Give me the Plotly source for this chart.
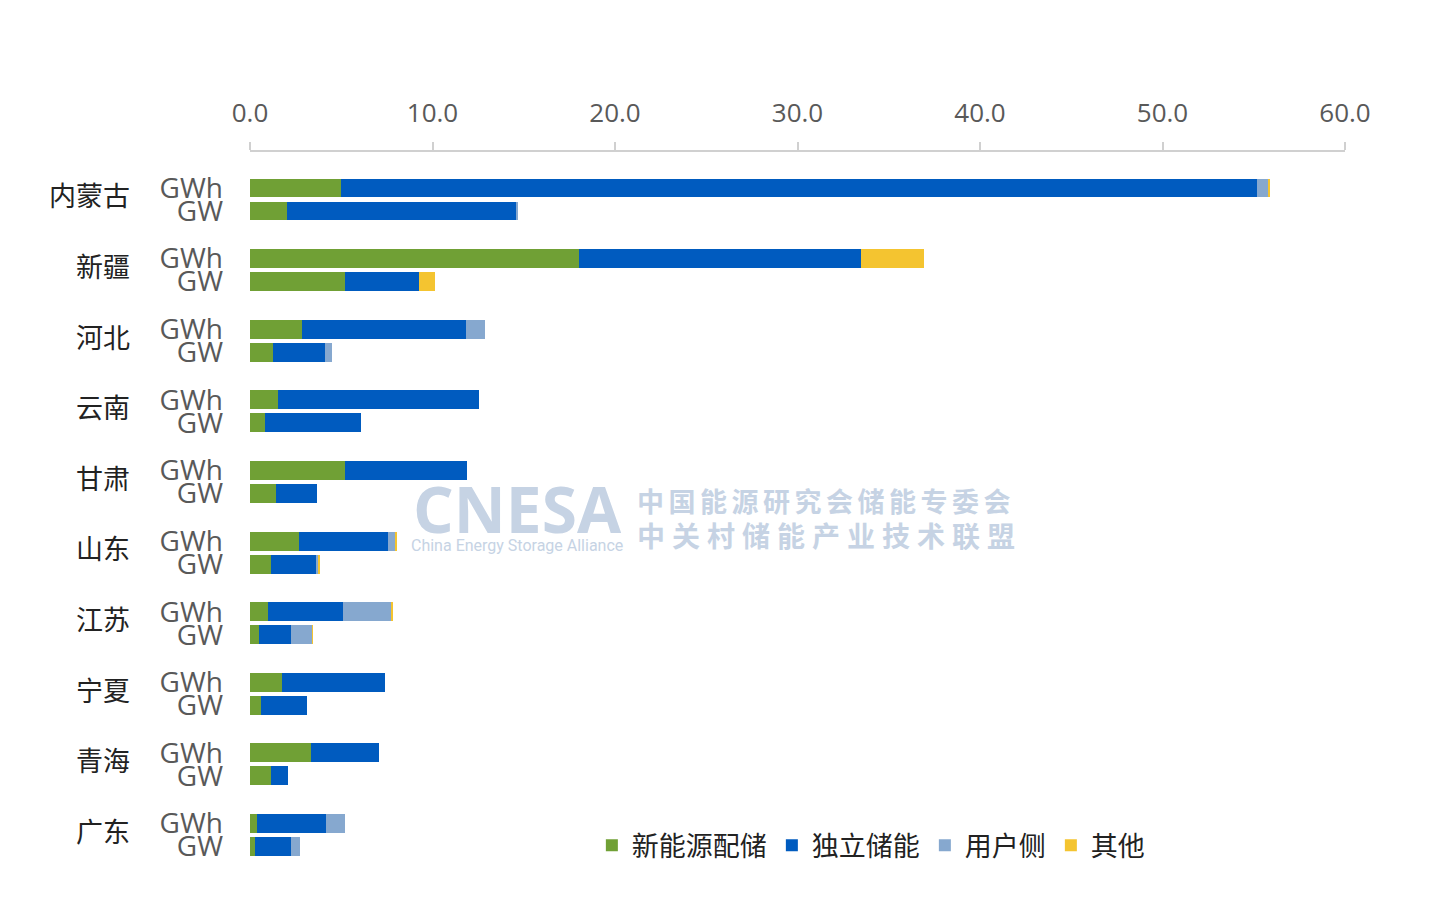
import plotly.graph_objects as go

# provinces, top to bottom
provinces = ["内蒙古", "新疆", "河北", "云南", "甘肃", "山东", "江苏", "宁夏", "青海", "广东"]
units = ["GWh", "GW"]

# energy (GWh) by application
gwh_new_energy = [5.0, 18.0, 2.85, 1.55, 5.2, 2.7, 1.0, 1.75, 3.35, 0.4]
gwh_standalone = [50.2, 15.5, 9.0, 11.0, 6.7, 4.85, 4.1, 5.65, 3.7, 3.75]
gwh_user_side = [0.6, 0.0, 1.0, 0.0, 0.0, 0.4, 2.65, 0.0, 0.0, 1.05]
gwh_other = [0.1, 3.45, 0.0, 0.0, 0.0, 0.1, 0.07, 0.0, 0.0, 0.0]

# power (GW) by application
gw_new_energy = [2.0, 5.2, 1.25, 0.8, 1.45, 1.15, 0.5, 0.6, 1.15, 0.27]
gw_standalone = [12.56, 4.05, 2.85, 5.3, 2.2, 2.45, 1.75, 2.55, 0.95, 1.97]
gw_user_side = [0.15, 0.0, 0.42, 0.0, 0.0, 0.13, 1.15, 0.0, 0.0, 0.5]
gw_other = [0.0, 0.9, 0.0, 0.0, 0.0, 0.1, 0.03, 0.0, 0.0, 0.0]

series = [
    ("新能源配储", gwh_new_energy, gw_new_energy, "#70a035"),
    ("独立储能", gwh_standalone, gw_standalone, "#005bbf"),
    ("用户侧", gwh_user_side, gw_user_side, "#86a8cf"),
    ("其他", gwh_other, gw_other, "#f4c430"),
]

pitch = 3.07  # spacing between provinces, in bar slots
ypos = []
for i in range(len(provinces)):
    ypos += [i * pitch, i * pitch + 1]

fig = go.Figure()
for name, a, b, color in series:
    xs = []
    for i in range(len(provinces)):
        xs += [a[i], b[i]]
    fig.add_trace(go.Bar(
        x=xs, y=ypos, name=name, orientation="h",
        marker=dict(color=color, line=dict(width=0)),
        width=0.82,
    ))

# province names
for i, p in enumerate(provinces):
    fig.add_annotation(
        x=-0.108, xref="paper", y=i * pitch + 0.3, yref="y",
        text=p, showarrow=False, xanchor="right", yanchor="middle",
        font=dict(family="Noto Sans CJK SC", size=27, color="#222222"),
    )

# watermark
wm = "#c6d3e4"
fig.add_annotation(x=0.244, y=0.503, xref="paper", yref="paper", text="<b>CNESA</b>",
                   showarrow=False, xanchor="center",
                   font=dict(family="Open Sans", size=64, color=wm))
fig.add_annotation(x=0.244, y=0.452, xref="paper", yref="paper",
                   text="China Energy Storage Alliance", showarrow=False, xanchor="center",
                   font=dict(family="Roboto", size=16, color=wm))
fig.add_annotation(x=0.352, y=0.515, xref="paper", yref="paper",
                   text="<b>" + "\u2006".join("中国能源研究会储能专委会") + "</b>",
                   showarrow=False, xanchor="left",
                   font=dict(family="Noto Sans CJK SC", size=27, color=wm))
fig.add_annotation(x=0.352, y=0.466, xref="paper", yref="paper",
                   text="<b>" + "\u2005".join("中关村储能产业技术联盟") + "</b>",
                   showarrow=False, xanchor="left",
                   font=dict(family="Noto Sans CJK SC", size=28, color=wm))

fig.update_layout(
    width=1436, height=902,
    margin=dict(l=242, r=99, t=144, b=40),
    paper_bgcolor="white", plot_bgcolor="white",
    barmode="stack", bargap=0,
    font=dict(family="Open Sans, Noto Sans CJK SC", color="#595959"),
    legend=dict(
        orientation="h", x=0.567, y=0.034, xanchor="center", yanchor="middle",
        traceorder="normal",
        font=dict(family="Noto Sans CJK SC", size=27, color="#222222"),
        itemwidth=30, bgcolor="rgba(0,0,0,0)",
    ),
    xaxis=dict(
        side="top", range=[0, 60], dtick=10, tickformat=".1f",
        showgrid=False, zeroline=False,
        showline=True, linecolor="#d0d0d0", linewidth=2,
        ticks="outside", ticklen=8, tickcolor="#d0d0d0", tickwidth=2,
        ticklabelstandoff=10,
        tickfont=dict(family="Open Sans", size=26, color="#595959"),
    ),
    yaxis=dict(
        range=[29.65, -1.565], tickvals=ypos, ticktext=units * len(provinces),
        showgrid=False, zeroline=False, showline=False, ticks="",
        ticklabelstandoff=26,
        tickfont=dict(family="Open Sans", size=28, color="#595959"),
    ),
)

fig.write_html("out.html")
